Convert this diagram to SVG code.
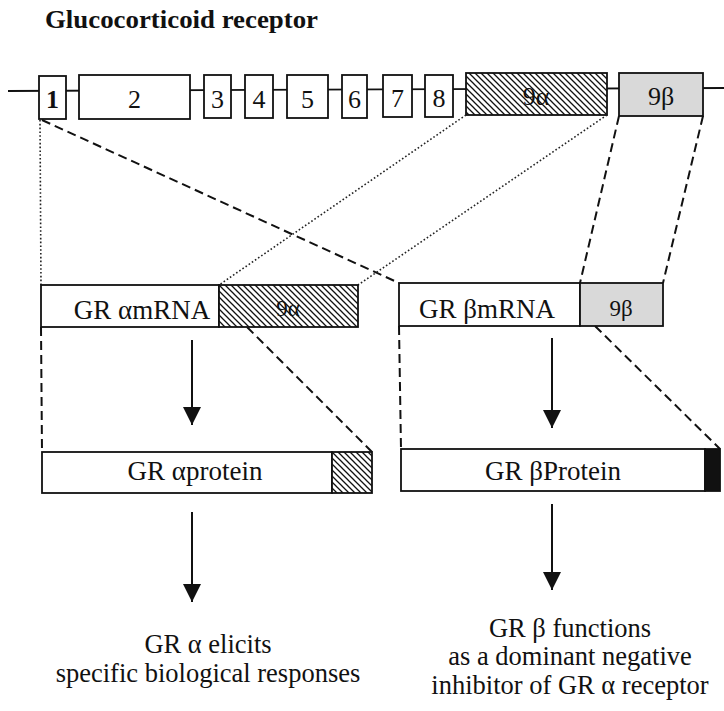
<svg xmlns="http://www.w3.org/2000/svg" width="724" height="711" viewBox="0 0 724 711">
  <defs>
    <pattern id="hatch" patternUnits="userSpaceOnUse" width="6" height="6">
      <rect width="6" height="6" fill="#fff"/>
      <path d="M0,0 L6,6 M-1,5 L1,7 M5,-1 L7,1" stroke="#111" stroke-width="1.3"/>
    </pattern>
    <marker id="arrow" markerUnits="userSpaceOnUse" markerWidth="20" markerHeight="22" refX="18" refY="9" orient="auto">
      <path d="M0,0 L18,9 L0,18 Z" fill="#111"/>
    </marker>
    <style>
      text { font-family: 'Liberation Serif', 'Times New Roman', serif; fill: #111; text-anchor: middle; }
      .box { fill: #fff; stroke: #111; stroke-width: 1.8; }
      .hat { fill: url(#hatch); stroke: #111; stroke-width: 1.8; }
      .gray { fill: #d9d9d9; stroke: #111; stroke-width: 1.8; }
      .blk { fill: #111; stroke: #111; stroke-width: 1.8; }
      .num { font-size: 26px; }
      .lbl { font-size: 27px; }
      .out { font-size: 26.5px; }
      .dot { fill: none; stroke: #222; stroke-width: 1.6; stroke-dasharray: 1.6 2.2; }
      .dash { fill: none; stroke: #111; stroke-width: 2; stroke-dasharray: 9 5; }
      .arr { stroke: #111; stroke-width: 2; marker-end: url(#arrow); }
    </style>
  </defs>
  <rect width="724" height="711" fill="#fff"/>

  <g font-family="Liberation Serif, Times New Roman, serif">
  <g id="title">
    <text x="45" y="28" style="text-anchor:start;font-weight:bold;font-size:26px" textLength="273" lengthAdjust="spacingAndGlyphs">Glucocorticoid receptor</text>
  </g>

  <g id="gene">
    <line x1="8" y1="91" x2="724" y2="88" stroke="#111" stroke-width="1.8"/>
    <g id="exon1"><rect class="box" x="39" y="76" width="27" height="43"/><text class="num" x="52.5" y="108" font-weight="bold">1</text></g>
    <g id="exon2"><rect class="box" x="79" y="75" width="111" height="44"/><text class="num" x="134.5" y="108">2</text></g>
    <g id="exon3"><rect class="box" x="204" y="75" width="27" height="43"/><text class="num" x="217.5" y="108">3</text></g>
    <g id="exon4"><rect class="box" x="245" y="75" width="28" height="43"/><text class="num" x="259" y="108">4</text></g>
    <g id="exon5"><rect class="box" x="287" y="75" width="41" height="43"/><text class="num" x="307.5" y="108">5</text></g>
    <g id="exon6"><rect class="box" x="342" y="75" width="25" height="43"/><text class="num" x="354.5" y="108">6</text></g>
    <g id="exon7"><rect class="box" x="383" y="75" width="29" height="42"/><text class="num" x="397.5" y="107">7</text></g>
    <g id="exon8"><rect class="box" x="425" y="75" width="28" height="42"/><text class="num" x="439" y="107">8</text></g>
    <g id="exon9a"><rect class="hat" x="466" y="73" width="141" height="42"/><text class="num" x="536" y="105">9α</text></g>
    <g id="exon9b"><rect class="gray" x="619" y="73" width="84" height="43"/><text class="num" x="661" y="105">9β</text></g>
  </g>

  <g id="connectors">
    <line class="dot" x1="40" y1="120" x2="41" y2="285"/>
    <line class="dash" x1="42" y1="120" x2="399" y2="283"/>
    <line class="dot" x1="466" y1="115" x2="219" y2="285"/>
    <line class="dot" x1="607" y1="115" x2="358" y2="285"/>
    <line class="dash" x1="619" y1="116" x2="580" y2="283"/>
    <line class="dash" x1="703" y1="116" x2="663" y2="283"/>
    <line class="dash" x1="41" y1="327" x2="42" y2="452"/>
    <line class="dash" x1="247" y1="327" x2="372" y2="452"/>
    <line class="dash" x1="399" y1="326" x2="401" y2="449"/>
    <line class="dash" x1="595" y1="326" x2="720" y2="449"/>
    <line class="arr" x1="192" y1="340" x2="192" y2="425"/>
    <line class="arr" x1="552" y1="338" x2="552" y2="428"/>
    <line class="arr" x1="192" y1="512" x2="192" y2="602"/>
    <line class="arr" x1="552" y1="504" x2="552" y2="590"/>
  </g>

  <g id="alpha-mrna">
    <rect class="box" x="41" y="285" width="178" height="42"/>
    <rect class="hat" x="219" y="285" width="139" height="42"/>
    <text class="lbl" x="142" y="319">GR αmRNA</text>
    <text x="288" y="316" style="font-size:23px">9α</text>
  </g>

  <g id="beta-mrna">
    <rect class="box" x="399" y="283" width="181" height="43"/>
    <rect class="gray" x="580" y="283" width="83" height="43"/>
    <text class="lbl" x="487" y="318">GR βmRNA</text>
    <text x="621" y="316" style="font-size:23px">9β</text>
  </g>

  <g id="alpha-protein">
    <rect class="box" x="42" y="452" width="290" height="41"/>
    <rect class="hat" x="332" y="452" width="40" height="41"/>
    <text class="lbl" x="195" y="480">GR αprotein</text>
  </g>

  <g id="beta-protein">
    <rect class="box" x="401" y="449" width="304" height="42"/>
    <rect class="blk" x="705" y="449" width="15" height="42"/>
    <text class="lbl" x="553" y="480">GR βProtein</text>
  </g>

  <g id="alpha-outcome">
    <text class="out" x="208" y="653">GR α elicits</text>
    <text class="out" x="208" y="682">specific biological responses</text>
  </g>

  <g id="beta-outcome">
    <text class="out" x="570" y="637">GR β functions</text>
    <text class="out" x="570" y="665">as a dominant negative</text>
    <text class="out" x="570" y="694">inhibitor of GR α receptor</text>
  </g>
  </g>
</svg>
